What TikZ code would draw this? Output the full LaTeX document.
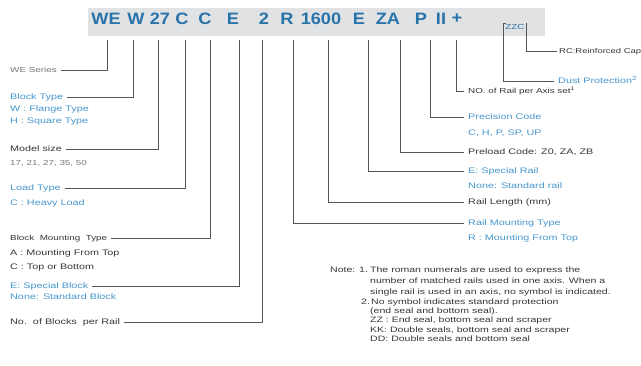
\documentclass[tikz,border=0pt]{standalone}
\usepackage{fontspec}
\setmainfont{Liberation Sans}
\newfontfamily\labfont[FakeStretch=1.35]{Liberation Sans}
\newfontfamily\hdrfont[FakeStretch=1.1]{Liberation Sans}
\definecolor{hblue}{RGB}{40,115,170}
\definecolor{lblue}{RGB}{70,150,205}
\definecolor{tdark}{RGB}{55,55,55}
\definecolor{tgray}{RGB}{120,120,120}
\definecolor{bandc}{RGB}{224,226,228}
\definecolor{linec}{RGB}{85,85,85}
\tikzset{
  hdr/.style={font=\hdrfont\bfseries\fontsize{16.5}{18}\selectfont, text=hblue, minimum height=42pt, inner sep=0pt, anchor=center},
  lab/.style={font=\labfont\fontsize{8}{10}\selectfont, anchor=mid west, inner xsep=4pt, inner ysep=0pt},
  slab/.style={lab, font=\labfont\fontsize{7.3}{9}\selectfont},
  nte/.style={anchor=mid west, inner sep=0pt, font=\labfont\fontsize{7.8}{9}\selectfont, text=tdark},
  blu/.style={text=lblue},
  blk/.style={text=tdark},
  gry/.style={text=tgray},
  conn/.style={draw=linec, line width=0.9pt},
}
\begin{document}
\begin{tikzpicture}[x=1pt,y=-1pt]
\useasboundingbox (0,0) rectangle (641,365);
\fill[white] (0,0) rectangle (641,365);
\fill[bandc] (88,8) rectangle (545,36);
% header code
\node[hdr] (hWE) at (106,19) {WE};
\node[hdr] (hW) at (136,19) {W};
\node[hdr] (h27) at (160,19) {27};
\node[hdr] (hCa) at (182,19) {C};
\node[hdr] (hCb) at (205,19) {C};
\node[hdr] (hEa) at (233,19) {E};
\node[hdr] (hTwo) at (264,19) {2};
\node[hdr] (hR) at (287,19) {R};
\node[hdr] (hLen) at (321,19) {1600};
\node[hdr] (hEb) at (359,19) {E};
\node[hdr] (hZA) at (388,19) {ZA};
\node[hdr] (hP) at (421,19) {P};
\node[hdr] (hII) at (441,19) {II};
\node[hdr] (hPlus) at (457,19) {+};
\node[slab, anchor=center, text=hblue, inner xsep=2pt, inner ysep=1pt] (hZZC) at (515,27) {ZZC};
% left labels
\node[slab, gry] (lWE) at (6,70) {WE Series};
\node[lab, blu] (lBT) at (6,97) {Block Type};
\node[lab, blu] (lBTa) at (6,109) {W : Flange Type};
\node[lab, blu] (lBTb) at (6,121) {H : Square Type};
\node[lab, blk] (lMS) at (6,149) {Model size};
\node[slab, gry] (lMSa) at (6,163) {17, 21, 27, 35, 50};
\node[lab, blu] (lLT) at (6,188) {Load Type};
\node[lab, blu] (lLTa) at (6,203) {C : Heavy Load};
\node[slab, blk] (lBM) at (6,238) {Block\ \ Mounting\ \ Type};
\node[lab, blk] (lBMa) at (6,253) {A : Mounting From Top};
\node[lab, blk] (lBMb) at (6,267) {C : Top or Bottom};
\node[lab, blu] (lSB) at (6,286) {E: Special Block};
\node[lab, blu] (lSBa) at (6,297) {None: Standard Block};
\node[lab, blk] (lNB) at (6,322) {No.\ \ of Blocks\ \ per Rail};
% right labels
\node[slab, blk] (rNR) at (464,91) {NO. of Rail per Axis set\textsuperscript{1}};
\node[lab, blu] (rPC) at (464,117) {Precision Code};
\node[lab, blu] (rPCa) at (464,133) {C, H, P, SP, UP};
\node[lab, blk] (rPL) at (464,152) {Preload Code: Z0, ZA, ZB};
\node[lab, blu] (rSR) at (464,171) {E: Special Rail};
\node[lab, blu] (rSRa) at (464,186) {None: Standard rail};
\node[lab, blk] (rRL) at (464,202) {Rail Length (mm)};
\node[lab, blu] (rRM) at (464,223) {Rail Mounting Type};
\node[lab, blu] (rRMa) at (464,238) {R : Mounting From Top};
\node[lab, blu] (rDP) at (554,81) {Dust Protection\textsuperscript{2}};
\node[slab, blk, inner xsep=2pt, font=\labfont\fontsize{7}{9}\selectfont] (rRC) at (557,51) {RC:Reinforced Cap};
% notes
\node[nte] (nN) at (330,270) {Note:};
\node[nte] (nOne) at (359,270) {1.};
\node[nte] (nOa) at (370,270) {The roman numerals are used to express the};
\node[nte] (nOb) at (370,281) {number of matched rails used in one axis. When a};
\node[nte] (nOc) at (370,292) {single rail is used in an axis, no symbol is indicated.};
\node[nte] (nTwo) at (361,302) {2.};
\node[nte] (nTa) at (371,302) {No symbol indicates standard protection};
\node[nte] (nTb) at (370,311) {(end seal and bottom seal).};
\node[nte] (nTc) at (370,320) {ZZ : End seal, bottom seal and scraper};
\node[nte] (nTd) at (370,330) {KK: Double seals, bottom seal and scraper};
\node[nte] (nTe) at (370,339) {DD: Double seals and bottom seal};
% connectors left
\draw[conn] ([xshift=1pt]hWE.south) |- (lWE.mid east);
\draw[conn] ([xshift=-3pt]hW.south) |- (lBT.mid east);
\draw[conn] ([xshift=-2pt]h27.south) |- (lMS.mid east);
\draw[conn] ([xshift=3pt]hCa.south) |- (lLT.mid east);
\draw[conn] ([xshift=5pt]hCb.south) |- (lBM.mid east);
\draw[conn] ([xshift=6pt]hEa.south) |- (lSB.mid east);
\draw[conn] ([xshift=-2pt]hTwo.south) |- (lNB.mid east);
% connectors right
\draw[conn] ([xshift=6pt]hR.south) |- (rRM.mid west);
\draw[conn] ([xshift=7pt]hLen.south) |- (rRL.mid west);
\draw[conn] ([xshift=9pt]hEb.south) |- (rSR.mid west);
\draw[conn] ([xshift=12pt]hZA.south) |- (rPL.mid west);
\draw[conn] ([xshift=9pt]hP.south) |- (rPC.mid west);
\draw[conn] ([xshift=-1pt]hPlus.south) |- (rNR.mid west);
\draw[conn] ([xshift=3pt]hZZC.north west) -- (hZZC.north west) |- (rDP.mid west);
\draw[conn] (hZZC.north east) |- (rRC.mid west);
\end{tikzpicture}
\end{document}
